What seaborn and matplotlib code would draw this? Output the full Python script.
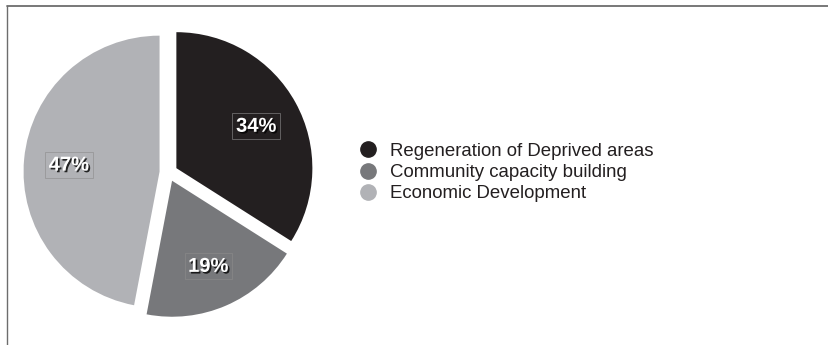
import matplotlib
matplotlib.use("Agg")
import matplotlib.pyplot as plt
import matplotlib.patheffects as pe
from matplotlib.lines import Line2D
import seaborn as sns

categories = ["Regeneration of Deprived areas", "Community capacity building", "Economic Development"]
shares = [34, 19, 47]
colors = ["#231f20", "#77787b", "#b1b2b6"]

sns.set_theme(style="white")
plt.rcParams["font.family"] = ["Liberation Sans", "DejaVu Sans"]

W, H = 829, 345
fig = plt.figure(figsize=(W / 100, H / 100), dpi=100)
fig.patch.set_facecolor("white")

# pie axes: centre (168.5, 172.5) px, radius 136 px
R = 136.0
cx, cy = 168.5, 172.5
half = 1.2 * R
ax = fig.add_axes([(cx - half) / W, (H - cy - half) / H, 2 * half / W, 2 * half / H])

wedges, texts, autotexts = ax.pie(
    shares,
    colors=colors,
    startangle=90,
    counterclock=False,
    explode=[0.066] * len(shares),
    autopct=lambda p: f"{p:.0f}%",
    pctdistance=0.67,
    radius=1.0,
    wedgeprops=dict(linewidth=0),
    textprops=dict(color="white", fontsize=14.5, fontweight="bold"),
)
ax.set_xlim(-1.2, 1.2)
ax.set_ylim(-1.2, 1.2)
ax.set_aspect("equal")
ax.axis("off")
for t in autotexts:
    t.set_verticalalignment("center_baseline")
    t.set_path_effects([pe.withSimplePatchShadow(offset=(1.2, -1.2), shadow_rgbFace="black", alpha=0.8)])
    t.set_bbox(dict(boxstyle="square,pad=0.18", fc="none", ec=(0.55, 0.55, 0.55, 0.7), lw=0.6))

handles = [Line2D([0], [0], marker="o", linestyle="none", markersize=11,
                  markerfacecolor=c, markeredgecolor=c) for c in colors]
fig.legend(handles, categories, loc="center left",
           bbox_to_anchor=(359.5 / W, 1 - 172.5 / H),
           frameon=False, fontsize=13.4, borderpad=0, borderaxespad=0,
           handlelength=0.95, handletextpad=0.7, labelspacing=0.22,
           labelcolor="#231f20")

# frame lines (top and left)
fig.add_artist(Line2D([7 / W, 1.0], [1 - 5.5 / H, 1 - 5.5 / H], color="#6d6d6d", lw=1.3, transform=fig.transFigure))
fig.add_artist(Line2D([7 / W, 7 / W], [0, 1 - 5.5 / H], color="#6d6d6d", lw=1.0, transform=fig.transFigure))

fig.savefig("out.png", dpi=100)
